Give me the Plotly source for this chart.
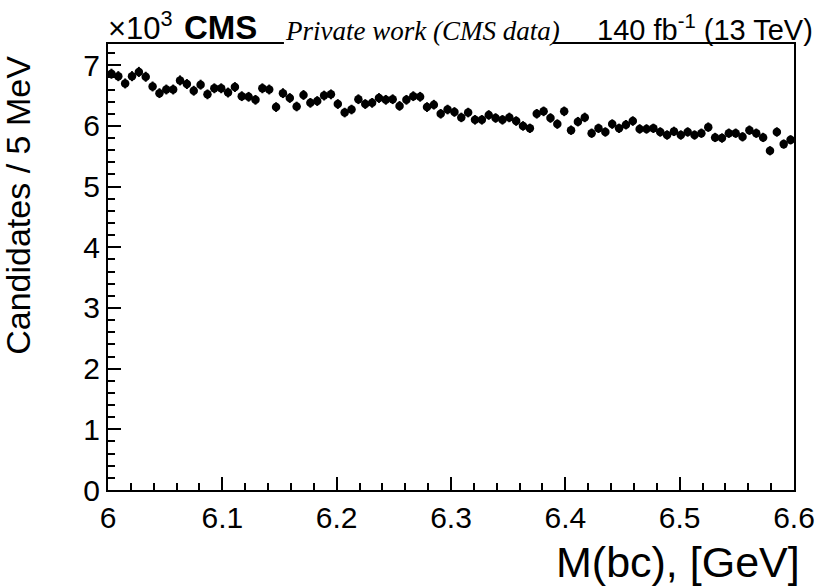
import numpy as np
import plotly.graph_objects as go

# ---- data (candidates per bin, in units of 10^3) ----
mass_min = 6.0
mass_max = 6.6
n_bins = 100
bin_edges = np.linspace(mass_min, mass_max, n_bins + 1)
bin_centers = 0.5 * (bin_edges[:-1] + bin_edges[1:])

counts_k = [
    6.86, 6.82, 6.70, 6.82, 6.89, 6.81, 6.65, 6.54, 6.60, 6.60,
    6.75, 6.69, 6.58, 6.68, 6.52, 6.62, 6.62, 6.55, 6.64, 6.49,
    6.48, 6.43, 6.62, 6.60, 6.31, 6.54, 6.46, 6.32, 6.51, 6.38,
    6.41, 6.50, 6.52, 6.36, 6.22, 6.27, 6.44, 6.36, 6.38, 6.46,
    6.43, 6.44, 6.33, 6.43, 6.49, 6.48, 6.31, 6.35, 6.20, 6.27,
    6.23, 6.14, 6.22, 6.10, 6.10, 6.18, 6.13, 6.10, 6.14, 6.08,
    6.00, 5.96, 6.20, 6.24, 6.13, 6.03, 6.24, 5.93, 6.07, 6.14,
    5.88, 5.96, 5.90, 6.03, 5.96, 6.02, 6.08, 5.95, 5.95, 5.96,
    5.90, 5.85, 5.91, 5.85, 5.90, 5.85, 5.88, 5.98, 5.81, 5.80,
    5.88, 5.88, 5.82, 5.93, 5.88, 5.81, 5.59, 5.90, 5.70, 5.77,
]
errors_k = [np.sqrt(v * 1000.0) / 1000.0 for v in counts_k]

x_ticks = [6.0, 6.1, 6.2, 6.3, 6.4, 6.5, 6.6]
x_tick_text = ["6", "6.1", "6.2", "6.3", "6.4", "6.5", "6.6"]
y_ticks = [0, 1, 2, 3, 4, 5, 6, 7]
y_tick_text = ["0", "1", "2", "3", "4", "5", "6", "7"]

# ---- layout geometry (pixels) ----
W, H = 827, 588
L, R, T, B = 108, 25, 44, 98
PW = W - L - R
PH = H - T - B


def px(p):
    return (p - L) / PW


def py(p):
    return (H - B - p) / PH


SANS = "Liberation Sans, Arial, Helvetica, sans-serif"
SERIF = "Liberation Serif, Times New Roman, serif"

fig = go.Figure()
fig.add_trace(go.Scatter(
    x=bin_centers,
    y=counts_k,
    mode="markers",
    marker=dict(symbol="circle", size=8.5, color="black"),
    error_y=dict(type="data", array=errors_k, visible=True,
                 thickness=2, width=0, color="black"),
    showlegend=False,
))

axis_common = dict(
    showgrid=False, zeroline=False,
    showline=True, linecolor="black", linewidth=2, mirror=True,
    ticks="inside", tickcolor="black", tickwidth=1.5, ticklen=13,
    tickfont=dict(family=SANS, size=30, color="black"),
)

fig.update_xaxes(
    range=[mass_min, mass_max],
    tickvals=x_ticks, ticktext=x_tick_text,
    minor=dict(ticks="inside", ticklen=7, tickwidth=1.5, tickcolor="black", dtick=0.02),
    **axis_common,
)
fig.update_yaxes(
    range=[0, 7.35],
    tickvals=y_ticks, ticktext=y_tick_text,
    minor=dict(ticks="inside", ticklen=7, tickwidth=1.5, tickcolor="black", dtick=0.2),
    **axis_common,
)

annotations = [
    dict(text="×10<sup>3</sup>", x=px(106), y=py(48), xanchor="left", yanchor="bottom",
         font=dict(family=SANS, size=31, color="black")),
    dict(text="<b>CMS</b>", x=px(183), y=py(48), xanchor="left", yanchor="bottom",
         font=dict(family=SANS, size=33, color="black")),
    dict(text="<i>Private work (CMS data)</i>", x=px(285), y=py(48), xanchor="left", yanchor="bottom",
         font=dict(family=SERIF, size=27, color="black")),
    dict(text="140 fb<sup>-1</sup> (13 TeV)", x=px(823), y=py(48), xanchor="right", yanchor="bottom",
         font=dict(family=SANS, size=29, color="black")),
    dict(text="Candidates / 5 MeV", textangle=-90, x=px(-4), y=py(54), xanchor="left", yanchor="top",
         font=dict(family=SANS, size=34, color="black")),
    dict(text="M(bc), [GeV]", x=px(810), y=py(536), xanchor="right", yanchor="top",
         font=dict(family=SANS, size=43, color="black")),
]
for a in annotations:
    a.update(xref="paper", yref="paper", showarrow=False)

fig.update_layout(
    width=W, height=H,
    margin=dict(l=L, r=R, t=T, b=B, pad=0),
    paper_bgcolor="white", plot_bgcolor="white",
    annotations=annotations,
    shapes=[dict(type="rect", xref="paper", yref="paper",
                 x0=px(286), x1=px(558), y0=py(47), y1=py(40),
                 fillcolor="white", line=dict(width=0), layer="above")],
)

fig.write_html("out.html")
